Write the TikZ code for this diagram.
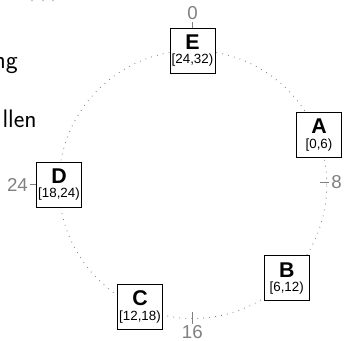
\documentclass[tikz,border=0pt]{standalone}
\usepackage{fontspec}
\newfontfamily\arial{Liberation Sans}
\begin{document}
\begin{tikzpicture}[x=0.75pt,y=-0.75pt,
  ringline/.style={draw=black!50, line width=0.65pt, dash pattern=on 0.6pt off 3.9pt},
  partbox/.style={draw=black, line width=0.65pt, fill=white, minimum width=33.75pt, minimum height=33.75pt,
     inner sep=1pt, align=center, font=\arial\fontsize{10}{10.8}\selectfont},
  ticklab/.style={text=black!50, inner sep=1.5pt, font=\arial\fontsize{14}{16}\selectfont},
  tickline/.style={draw=black!50, line width=0.6pt},
  slidetext/.style={inner sep=0pt, font=\sffamily\fontsize{19}{22}\selectfont}]
\useasboundingbox (0,0) rectangle (345,340);
\clip (0,0) rectangle (345,340);
% clipped slide text
\node[slidetext, anchor=base east] (t1) at (18,68) {ng};
\node[slidetext, anchor=base east] (t2) at (37,127) {llen};
\foreach \i/\xx in {1/32,2/43,3/53} \fill[black!40] (\xx,0.6) circle[radius=0.5pt];
% ring
\coordinate (ctr) at (192.8,184.5);
\draw[ringline] (ctr) circle[radius=100.5pt];
% nodes
\node[partbox] (E) at (192.5,50.5) {{\fontsize{16}{10.8}\selectfont\bfseries E}\\{[24,32)}};
\node[partbox] (A) at (319,135) {{\fontsize{16}{10.8}\selectfont\bfseries A}\\{[0,6)}};
\node[partbox] (B) at (286.7,278.3) {{\fontsize{16}{10.8}\selectfont\bfseries B}\\{[6,12)}};
\node[partbox] (C) at (140,307) {{\fontsize{16}{10.8}\selectfont\bfseries C}\\{[12,18)}};
\node[partbox] (D) at (59,184.5) {{\fontsize{16}{10.8}\selectfont\bfseries D}\\{[18,24)}};
% tick labels
\node[ticklab] (l0) at (192.5,13.3) {0};
\node[ticklab] (l8) at (336.5,182.5) {8};
\node[ticklab] (l16) at (192.3,332.5) {16};
\node[ticklab] (l24) at (17.5,184.5) {24};
\coordinate (t8) at (320,182.5);
\coordinate (t16) at (192.3,312);
\draw[tickline] (E.north) -- (l0.south);
\draw[tickline] (t8) -- (l8.west);
\draw[tickline] (t16) -- (l16.north);
\draw[tickline] (l24.east) -- (D.west);
\end{tikzpicture}
\end{document}
